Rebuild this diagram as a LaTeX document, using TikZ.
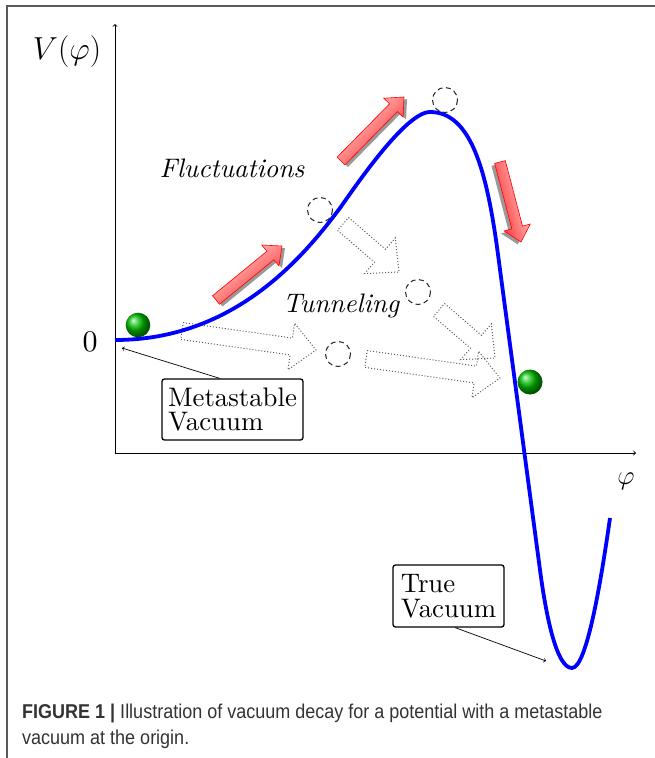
\documentclass[tikz,border=0pt]{standalone}
\usepackage{graphicx}
\usepackage{fontspec}
\setmainfont{lmroman10-regular.otf}[ItalicFont=lmroman10-italic.otf, BoldFont=lmroman10-bold.otf]
\newfontfamily\capfont[FakeStretch=0.9]{Liberation Sans}
\usetikzlibrary{calc,shadings}
\newcommand\mybig{\fontsize{26.8}{24.5}\selectfont}
\newcommand\mathbase{\fontsize{24.88}{28}\selectfont}
% block arrow: #1 style, #2 tail, #3 tip, #4 shaft half width, #5 head half width, #6 head length
\newcommand\blkarr[6]{%
  \coordinate (baH) at ($(#3)!#6!(#2)$);
  \path[#1] ($(#2)!#4!90:(#3)$) -- ($(baH)!#4!90:(#3)$) -- ($(baH)!#5!90:(#3)$) -- (#3)
    -- ($(baH)!#5!-90:(#3)$) -- ($(baH)!#4!-90:(#3)$) -- ($(#2)!#4!-90:(#3)$) -- cycle;}
\begin{document}
\begin{tikzpicture}[x=1pt,y=-1pt,
  frame/.style={draw=black!65, line width=1.8pt},
  axis/.style={line width=0.9pt, ->},
  pot/.style={draw=blue, line width=3.8pt},
  redarr/.style={draw=red, line width=0.6pt, top color=red!12!white, bottom color=red!88!white, shading angle=#1},
  redshadow/.style={fill=black!40, draw=none},
  dotarr/.style={draw=black!65, dotted, line width=1pt},
  ghost/.style={draw=black!85, dash pattern=on 5pt off 3.5pt, line width=1pt},
  greenball/.style={shading=ball, ball color=green!75!black},
  lbl/.style={font=\mybig, draw, rounded corners=2.5pt, line width=1.3pt, align=left, inner sep=0pt},
  pointer/.style={line width=0.7pt, ->},
  captxt/.style={anchor=base west, inner sep=0pt, font=\capfont\fontsize{20}{24}\selectfont, text=black!80}
]
\useasboundingbox (0,0) rectangle (655,758);
% frame
\draw[frame] (7,758) -- (7,6) -- (655,6);
% axes
\coordinate (O) at (115,453);
\coordinate (ytop) at (115,24);
\coordinate (xend) at (636,453);
\draw[axis] (O) -- (ytop);
\draw[axis] (O) -- (xend);
\node[font=\mathbase] (vlabel) at (67,52) {\scalebox{1.28}{$V(\varphi)$}};
\node[font=\fontsize{30}{36}\selectfont] (zero) at (90,342) {0};
\node[font=\mathbase] (philabel) at (626,481) {\scalebox{1.08}{$\varphi$}};
% dotted tunneling arrows
\blkarr{dotarr}{182,331}{316,350}{8.5pt}{23.5pt}{25pt}
\blkarr{dotarr}{343,224}{399,272}{8.5pt}{23.5pt}{25pt}
\blkarr{dotarr}{439,310}{495,358}{8.5pt}{23.5pt}{25pt}
\blkarr{dotarr}{366,359}{500,378}{8.5pt}{23.5pt}{25pt}
% ghost positions
\draw[ghost] (445,100) circle (12.5);
\draw[ghost] (320,210) circle (12.5);
\draw[ghost] (418,292) circle (12.5);
\draw[ghost] (338,354) circle (12.5);
% potential
\draw[pot] (115,340) .. controls (235,340) and (304,256) .. (340,208)
  .. controls (353,190) and (405,112) .. (430,112)
  .. controls (470,112) and (486,168) .. (497,247)
  -- (540,570)
  .. controls (546.6,619.6) and (557,668) .. (572,668)
  .. controls (587,668) and (601.5,577.4) .. (610,518);
% fluctuation arrows with shadows
\begin{scope}[shift={(3,2.2)}]
  \blkarr{redshadow}{216,300}{282,246}{5.5pt}{13.5pt}{15pt}
\end{scope}
\begin{scope}[shift={(3,2.2)}]
  \blkarr{redshadow}{341,161}{404,97}{5.5pt}{13.5pt}{15pt}
\end{scope}
\begin{scope}[shift={(-3.2,2.5)}]
  \blkarr{redshadow}{500,162}{521,242}{5.5pt}{13.5pt}{15pt}
\end{scope}
\blkarr{redarr=39.3}{216,300}{282,246}{5.5pt}{13.5pt}{15pt}
\blkarr{redarr=45.5}{341,161}{404,97}{5.5pt}{13.5pt}{15pt}
\blkarr{redarr=-75.3}{500,162}{521,242}{5.5pt}{13.5pt}{15pt}
% balls
\shade[greenball] (138,325) circle (12.3);
\shade[greenball] (530,382) circle (12.5);
% texts
\node[font=\mybig\itshape, anchor=base] (fluct) at (232,177) {Fluctuations};
\node[font=\mybig\itshape, anchor=base] (tunnel) at (341,312) {Tunneling};
% boxes
\node[lbl, minimum width=141pt, minimum height=61pt] (meta) at (232.5,409.5) {Metastable\\Vacuum};
\node[lbl, minimum width=111pt, minimum height=62pt] (truev) at (448.5,596) {True\\Vacuum};
\coordinate (mvtip) at (122,348);
\coordinate (tvtip) at (546,661);
\draw[pointer] ($(meta.north west)!0.41!(meta.north east)$) -- (mvtip);
\draw[pointer] ($(truev.south west)!0.56!(truev.south east)$) -- (tvtip);
% caption
\node[captxt] (cap1) at (22,718) {\textbf{FIGURE 1 |} Illustration of vacuum decay for a potential with a metastable};
\node[captxt] (cap2) at (22,744) {vacuum at the origin.};
\end{tikzpicture}
\end{document}
